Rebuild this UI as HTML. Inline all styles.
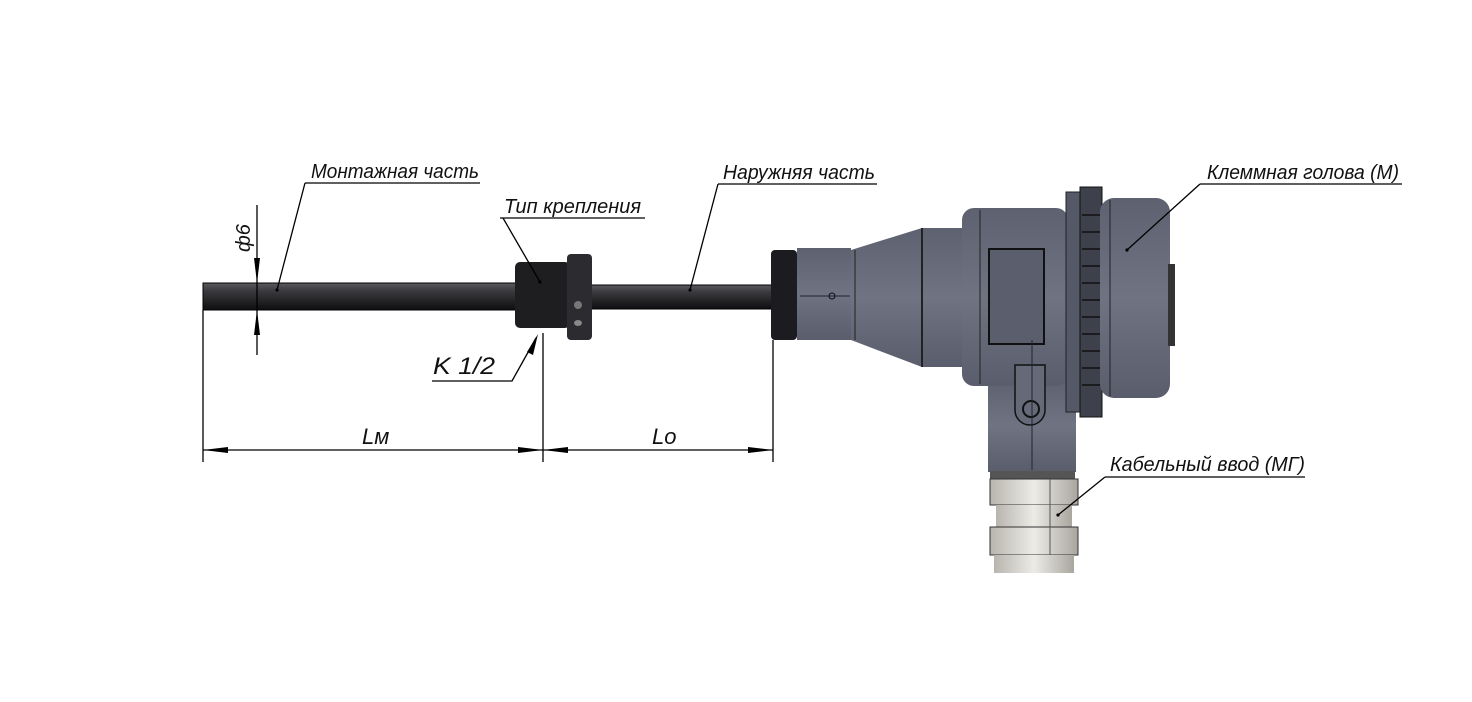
<!DOCTYPE html>
<html><head><meta charset="utf-8"><style>html,body{margin:0;padding:0;background:#fff}svg{display:block}</style></head>
<body>
<svg width="1472" height="702" viewBox="0 0 1472 702" xmlns="http://www.w3.org/2000/svg">
<defs>
<linearGradient id="rod" x1="0" y1="0" x2="0" y2="1"><stop offset="0" stop-color="#5a5a5e"/><stop offset="0.3" stop-color="#3a3a3e"/><stop offset="1" stop-color="#0e0e10"/></linearGradient>
<linearGradient id="body" x1="0" y1="0" x2="0" y2="1"><stop offset="0" stop-color="#5e6170"/><stop offset="0.5" stop-color="#6f7382"/><stop offset="1" stop-color="#5a5d6b"/></linearGradient>
<linearGradient id="gl" x1="0" y1="0" x2="1" y2="0"><stop offset="0" stop-color="#b8b5ae"/><stop offset="0.5" stop-color="#ecebe6"/><stop offset="1" stop-color="#a9a69f"/></linearGradient>
</defs>
<g font-family="Liberation Sans, DejaVu Sans, sans-serif" font-style="italic" font-size="20" fill="#111">
<!-- rods -->
<rect x="203" y="283" width="315" height="27" fill="url(#rod)" stroke="#000"/>
<rect x="590" y="285" width="185" height="24" fill="url(#rod)" stroke="#000"/>
<!-- fitting -->
<rect x="515" y="262" width="55" height="66" rx="5" fill="#1e1e20"/>
<rect x="567" y="254" width="25" height="86" rx="4" fill="#2c2c30"/>
<circle cx="578" cy="305" r="4" fill="#777"/><ellipse cx="578" cy="323" rx="4" ry="3" fill="#888"/>
<!-- head nut -->
<rect x="771" y="250" width="26" height="90" rx="4" fill="#1c1c20"/>
<!-- neck -->
<rect x="797" y="248" width="54" height="92" fill="url(#body)"/>
<polygon points="851,250 922,228 965,228 965,367 922,367 851,340" fill="url(#body)"/>
<line x1="855" y1="250" x2="855" y2="340" stroke="#222"/><line x1="922" y1="228" x2="922" y2="367" stroke="#222" stroke-width="2"/>
<line x1="800" y1="296" x2="850" y2="296" stroke="#223" stroke-width="1"/>
<circle cx="832" cy="296" r="3" fill="none" stroke="#111"/>
<!-- lower neck -->
<rect x="988" y="380" width="88" height="92" fill="url(#body)"/>
<rect x="990" y="471" width="85" height="8" fill="#555"/>
<!-- main body -->
<rect x="962" y="208" width="106" height="178" rx="12" fill="url(#body)"/>
<line x1="980" y1="210" x2="980" y2="384" stroke="#222"/>
<rect x="989" y="249" width="55" height="95" fill="#5b5e6c" stroke="#111" stroke-width="2"/>
<path d="M1015 365 h30 v45 a15 15 0 0 1 -30 0 z" fill="#666a78" stroke="#111" stroke-width="1.5"/>
<circle cx="1031" cy="409" r="8" fill="none" stroke="#111" stroke-width="2"/>
<line x1="1032" y1="340" x2="1032" y2="470" stroke="#223"/>
<!-- ring -->
<rect x="1066" y="192" width="14" height="220" fill="#555866" stroke="#222"/>
<rect x="1080" y="187" width="22" height="230" fill="#3e414c" stroke="#111"/>
<g stroke="#111" stroke-width="1.5">
<line x1="1082" y1="215" x2="1100" y2="215"/><line x1="1082" y1="232" x2="1100" y2="232"/><line x1="1082" y1="249" x2="1100" y2="249"/><line x1="1082" y1="266" x2="1100" y2="266"/><line x1="1082" y1="283" x2="1100" y2="283"/><line x1="1082" y1="300" x2="1100" y2="300"/><line x1="1082" y1="317" x2="1100" y2="317"/><line x1="1082" y1="334" x2="1100" y2="334"/><line x1="1082" y1="351" x2="1100" y2="351"/><line x1="1082" y1="368" x2="1100" y2="368"/><line x1="1082" y1="385" x2="1100" y2="385"/></g>
<!-- cap -->
<rect x="1100" y="198" width="70" height="200" rx="14" fill="url(#body)"/>
<line x1="1110" y1="200" x2="1110" y2="396" stroke="#222"/>
<rect x="1168" y="264" width="7" height="82" fill="#333"/>
<!-- gland -->
<rect x="990" y="479" width="88" height="26" fill="url(#gl)" stroke="#333"/>
<rect x="996" y="505" width="76" height="22" fill="url(#gl)"/>
<rect x="990" y="527" width="88" height="28" fill="url(#gl)" stroke="#333"/>
<rect x="994" y="555" width="80" height="18" fill="url(#gl)"/>
<line x1="1050" y1="479" x2="1050" y2="555" stroke="#555"/>
<!-- dimension lines -->
<g stroke="#000" stroke-width="1.3" fill="none">
<line x1="203" y1="310" x2="203" y2="462"/><line x1="543" y1="333" x2="543" y2="462"/><line x1="773" y1="340" x2="773" y2="462"/>
<line x1="203" y1="450" x2="773" y2="450"/>
<line x1="257" y1="205" x2="257" y2="355"/>
<polyline points="305,183 480,183"/><line x1="305" y1="183" x2="277" y2="290"/>
<polyline points="500,218 645,218"/><line x1="503" y1="218" x2="540" y2="282"/>
<polyline points="718,184 877,184"/><line x1="718" y1="184" x2="690" y2="290"/>
<polyline points="1200,184 1402,184"/><line x1="1200" y1="184" x2="1127" y2="250"/>
<polyline points="1105,477 1305,477"/><line x1="1105" y1="477" x2="1058" y2="515"/>
<polyline points="432,381 512,381 536,338"/>
</g>
<g fill="#000">
<polygon points="203,450 228,447 228,453"/><polygon points="543,450 518,447 518,453"/>
<polygon points="543,450 568,447 568,453"/><polygon points="773,450 748,447 748,453"/>
<polygon points="257,283 254,258 260,258"/><polygon points="257,310 254,335 260,335"/>
<polygon points="538,334 527,352 533,355"/>
<circle cx="277" cy="290" r="1.6"/><circle cx="540" cy="282" r="1.6"/><circle cx="690" cy="290" r="1.6"/><circle cx="1127" cy="250" r="1.6"/><circle cx="1058" cy="515" r="1.6"/>
</g>
<text x="311" y="178" textLength="168" lengthAdjust="spacingAndGlyphs">Монтажная часть</text>
<text x="504" y="213" textLength="137" lengthAdjust="spacingAndGlyphs">Тип крепления</text>
<text x="723" y="179" textLength="152" lengthAdjust="spacingAndGlyphs">Наружняя часть</text>
<text x="1207" y="179" textLength="192" lengthAdjust="spacingAndGlyphs">Клеммная голова (М)</text>
<text x="1110" y="471" textLength="195" lengthAdjust="spacingAndGlyphs">Кабельный ввод (МГ)</text>
<text x="433" y="374" font-size="24" textLength="62" lengthAdjust="spacingAndGlyphs">K 1/2</text>
<text x="362" y="444" font-size="22">Lм</text>
<text x="652" y="444" font-size="22">Lo</text>
<text transform="translate(250,252) rotate(-90)" font-size="20">ф6</text>
</g>
</svg>
</body></html>
